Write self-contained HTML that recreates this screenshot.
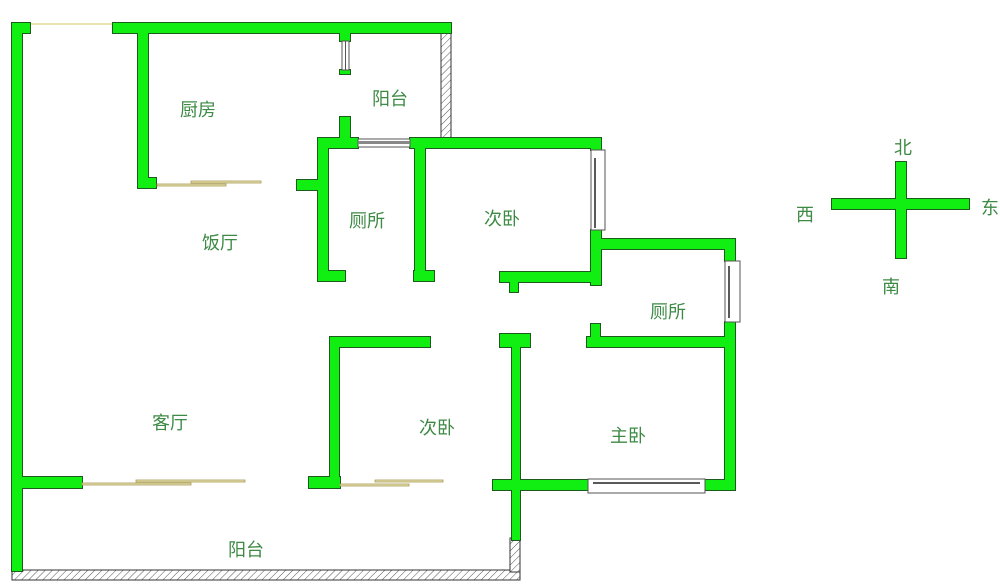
<!DOCTYPE html>
<html><head><meta charset="utf-8"><style>
html,body{margin:0;padding:0;background:#fff;}
svg{display:block;}
text{font-family:"Liberation Sans","Noto Sans CJK SC",sans-serif;font-size:18px;fill:#3d8a45;text-anchor:middle;dominant-baseline:middle;}
.ws{fill:#1d5a1d;stroke:#1d5a1d;stroke-width:2;}
.wf{fill:#11ee11;}
.win{fill:#fff;stroke:#555;stroke-width:1;}
.sl{fill:#e8e4b0;stroke:#a89a55;stroke-width:0.8;}
</style></head><body>
<svg width="1000" height="585" viewBox="0 0 1000 585" xmlns="http://www.w3.org/2000/svg">
<defs>
<pattern id="h" width="5" height="5" patternUnits="userSpaceOnUse" patternTransform="rotate(45)">
<rect width="5" height="5" fill="#fff"/><line x1="0" y1="0" x2="0" y2="5" stroke="#555" stroke-width="1"/>
</pattern>
<g id="walls">
<rect x="12" y="23" width="10" height="548"/>
<rect x="12" y="23" width="18" height="10"/>
<rect x="113" y="23" width="338" height="10"/>
<rect x="138" y="33" width="10" height="155"/>
<rect x="138" y="178" width="18" height="10"/>
<rect x="340" y="33" width="10" height="8"/>
<rect x="340" y="70" width="10" height="4"/>
<rect x="340" y="117" width="10" height="22"/>
<rect x="318" y="138" width="40" height="10"/>
<rect x="410" y="138" width="191" height="10"/>
<rect x="318" y="138" width="10" height="143"/>
<rect x="297" y="180" width="21" height="10"/>
<rect x="318" y="271" width="27" height="10"/>
<rect x="415" y="148" width="10" height="133"/>
<rect x="414" y="271" width="20" height="10"/>
<rect x="591" y="138" width="10" height="12"/>
<rect x="591" y="230" width="10" height="55"/>
<rect x="500" y="272" width="101" height="10"/>
<rect x="510" y="282" width="8" height="10"/>
<rect x="591" y="239" width="144" height="10"/>
<rect x="725" y="239" width="10" height="22"/>
<rect x="725" y="322" width="10" height="168"/>
<rect x="591" y="324" width="9" height="14"/>
<rect x="587" y="337" width="148" height="10"/>
<rect x="697" y="480" width="38" height="10"/>
<rect x="493" y="480" width="100" height="10"/>
<rect x="512" y="334" width="8" height="206"/>
<rect x="500" y="334" width="30" height="13"/>
<rect x="330" y="337" width="100" height="10"/>
<rect x="330" y="337" width="9" height="151"/>
<rect x="309" y="477" width="31" height="11"/>
<rect x="12" y="477" width="70" height="11"/>
<rect x="896" y="162" width="10" height="96"/>
<rect x="832" y="199" width="137" height="10"/>
</g>
</defs>
<!-- hatched -->
<rect x="441" y="23" width="10" height="115" fill="url(#h)" stroke="#333" stroke-width="1"/>
<rect x="12" y="570" width="508" height="10" fill="url(#h)" stroke="#333" stroke-width="1"/>
<rect x="510" y="538" width="10" height="34" fill="url(#h)" stroke="#333" stroke-width="1"/>
<rect x="30" y="23" width="83" height="2" fill="#e8e4b0"/>
<!-- walls: stroke layer then fill layer -->
<use href="#walls" class="ws"/>
<use href="#walls" class="wf"/>
<!-- windows -->
<rect class="win" x="342" y="41" width="7" height="29"/>
<line x1="345.5" y1="41" x2="345.5" y2="70" stroke="#555"/>
<rect x="358" y="139" width="52" height="8" fill="#fff" stroke="#555"/>
<rect x="358" y="141" width="52" height="3" fill="#888"/>
<rect class="win" x="591" y="150" width="14" height="80"/>
<line x1="595" y1="158" x2="595" y2="228" stroke="#222" stroke-width="1.5"/>
<rect class="win" x="725" y="261" width="15" height="61"/>
<line x1="729" y1="266" x2="729" y2="318" stroke="#222" stroke-width="1.5"/>
<rect class="win" x="588" y="479" width="117" height="14"/>
<line x1="593" y1="483" x2="700" y2="483" stroke="#222" stroke-width="1.5"/>
<!-- sliding doors -->
<rect class="sl" x="157" y="184" width="69" height="2"/>
<rect class="sl" x="191" y="181" width="70" height="2"/>
<rect class="sl" x="82" y="483" width="109" height="2"/>
<rect class="sl" x="136" y="480" width="109" height="2"/>
<rect class="sl" x="340" y="484" width="69" height="2"/>
<rect class="sl" x="375" y="480" width="68" height="2"/>
<text x="903" y="149">北</text>
<text x="805" y="216">西</text>
<text x="990" y="209">东</text>
<text x="891" y="288">南</text>
<text x="198" y="111">厨房</text>
<text x="390" y="100">阳台</text>
<text x="220" y="244">饭厅</text>
<text x="367" y="222">厕所</text>
<text x="502" y="220">次卧</text>
<text x="668" y="313">厕所</text>
<text x="170" y="424">客厅</text>
<text x="437" y="429">次卧</text>
<text x="628" y="437">主卧</text>
<text x="246" y="551">阳台</text>
</svg>
</body></html>
